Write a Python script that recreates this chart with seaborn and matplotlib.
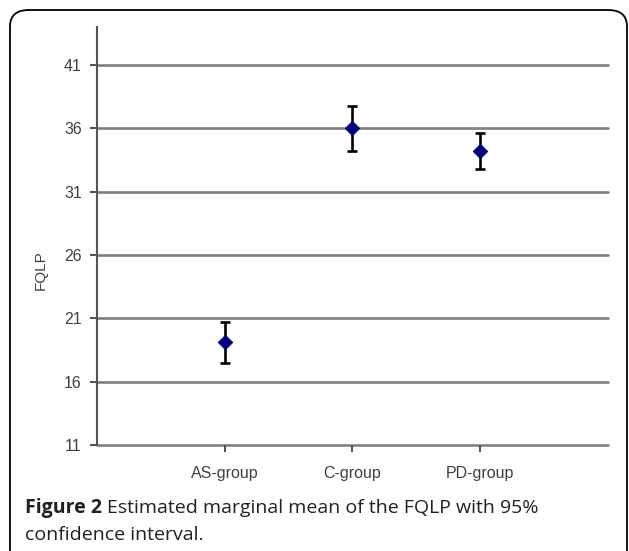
import matplotlib
matplotlib.use("Agg")
import matplotlib.pyplot as plt
import seaborn as sns
import pandas as pd
from matplotlib.patches import FancyBboxPatch

groups = ["AS-group", "C-group", "PD-group"]
means = [19.1, 36.0, 34.2]
ci_low = [17.5, 34.2, 32.8]
ci_high = [20.7, 37.8, 35.6]
yticks = [11, 16, 21, 26, 31, 36, 41]

df = pd.DataFrame({"group": groups, "FQLP": means})
err_lo = [m - lo for m, lo in zip(means, ci_low)]
err_hi = [hi - m for m, hi in zip(means, ci_high)]

sns.set_style("white")
plt.rcParams["font.family"] = ["Liberation Sans", "DejaVu Sans"]

fig = plt.figure(figsize=(6.29, 5.51), dpi=100)
ax = fig.add_axes([0.1542, 0.1924, 0.8124, 0.7586])

# gridlines like the old excel chart
for t in yticks:
    ax.axhline(t, color="#7f7f7f", lw=1.9, zorder=0, clip_on=False)

ax.errorbar(groups, means, yerr=[err_lo, err_hi], fmt="none", ecolor="black",
            elinewidth=1.9, capsize=3.3, capthick=1.9, zorder=2)
sns.scatterplot(data=df, x="group", y="FQLP", marker="D", s=55, color="#00007f",
                edgecolor="#00007f", ax=ax, zorder=3)

ax.set_xlim(-1, 3)
ax.set_ylim(11, 44)
ax.set_yticks(yticks)
ax.set_xlabel("")
ax.set_ylabel("FQLP", fontsize=11, color="#404040")
ax.yaxis.set_label_coords(-0.097, 0.418)

for s in ["top", "right", "bottom"]:
    ax.spines[s].set_visible(False)
ax.spines["left"].set_color("#555555")
ax.spines["left"].set_linewidth(1.5)
ax.tick_params(axis="both", direction="out", length=5, width=1.5, color="#555555",
               labelsize=11.5, labelcolor="#404040", bottom=True, left=True)
ax.tick_params(axis="x", pad=10)
ax.tick_params(axis="y", pad=6)

# figure panel frame
frame = FancyBboxPatch((10 / 629, -0.1), 617 / 629, 1 - 10 / 551 + 0.1,
                       boxstyle="round,pad=0,rounding_size=0.03",
                       transform=fig.transFigure, fill=False, ec="black", lw=1.3)
fig.patches.append(frame)

cap_font = ["Open Sans", "DejaVu Sans"]
fig.text(25 / 629, 1 - 508 / 551, "Figure 2", fontsize=14, fontweight="bold",
         family=cap_font, color="#231f20", va="center")
fig.text(107 / 629, 1 - 508 / 551, "Estimated marginal mean of the FQLP with 95%",
         fontsize=14, family=cap_font, color="#231f20", va="center")
fig.text(25 / 629, 1 - 535 / 551, "confidence interval.", fontsize=14,
         family=cap_font, color="#231f20", va="center")

fig.savefig("out.png", dpi=100)
